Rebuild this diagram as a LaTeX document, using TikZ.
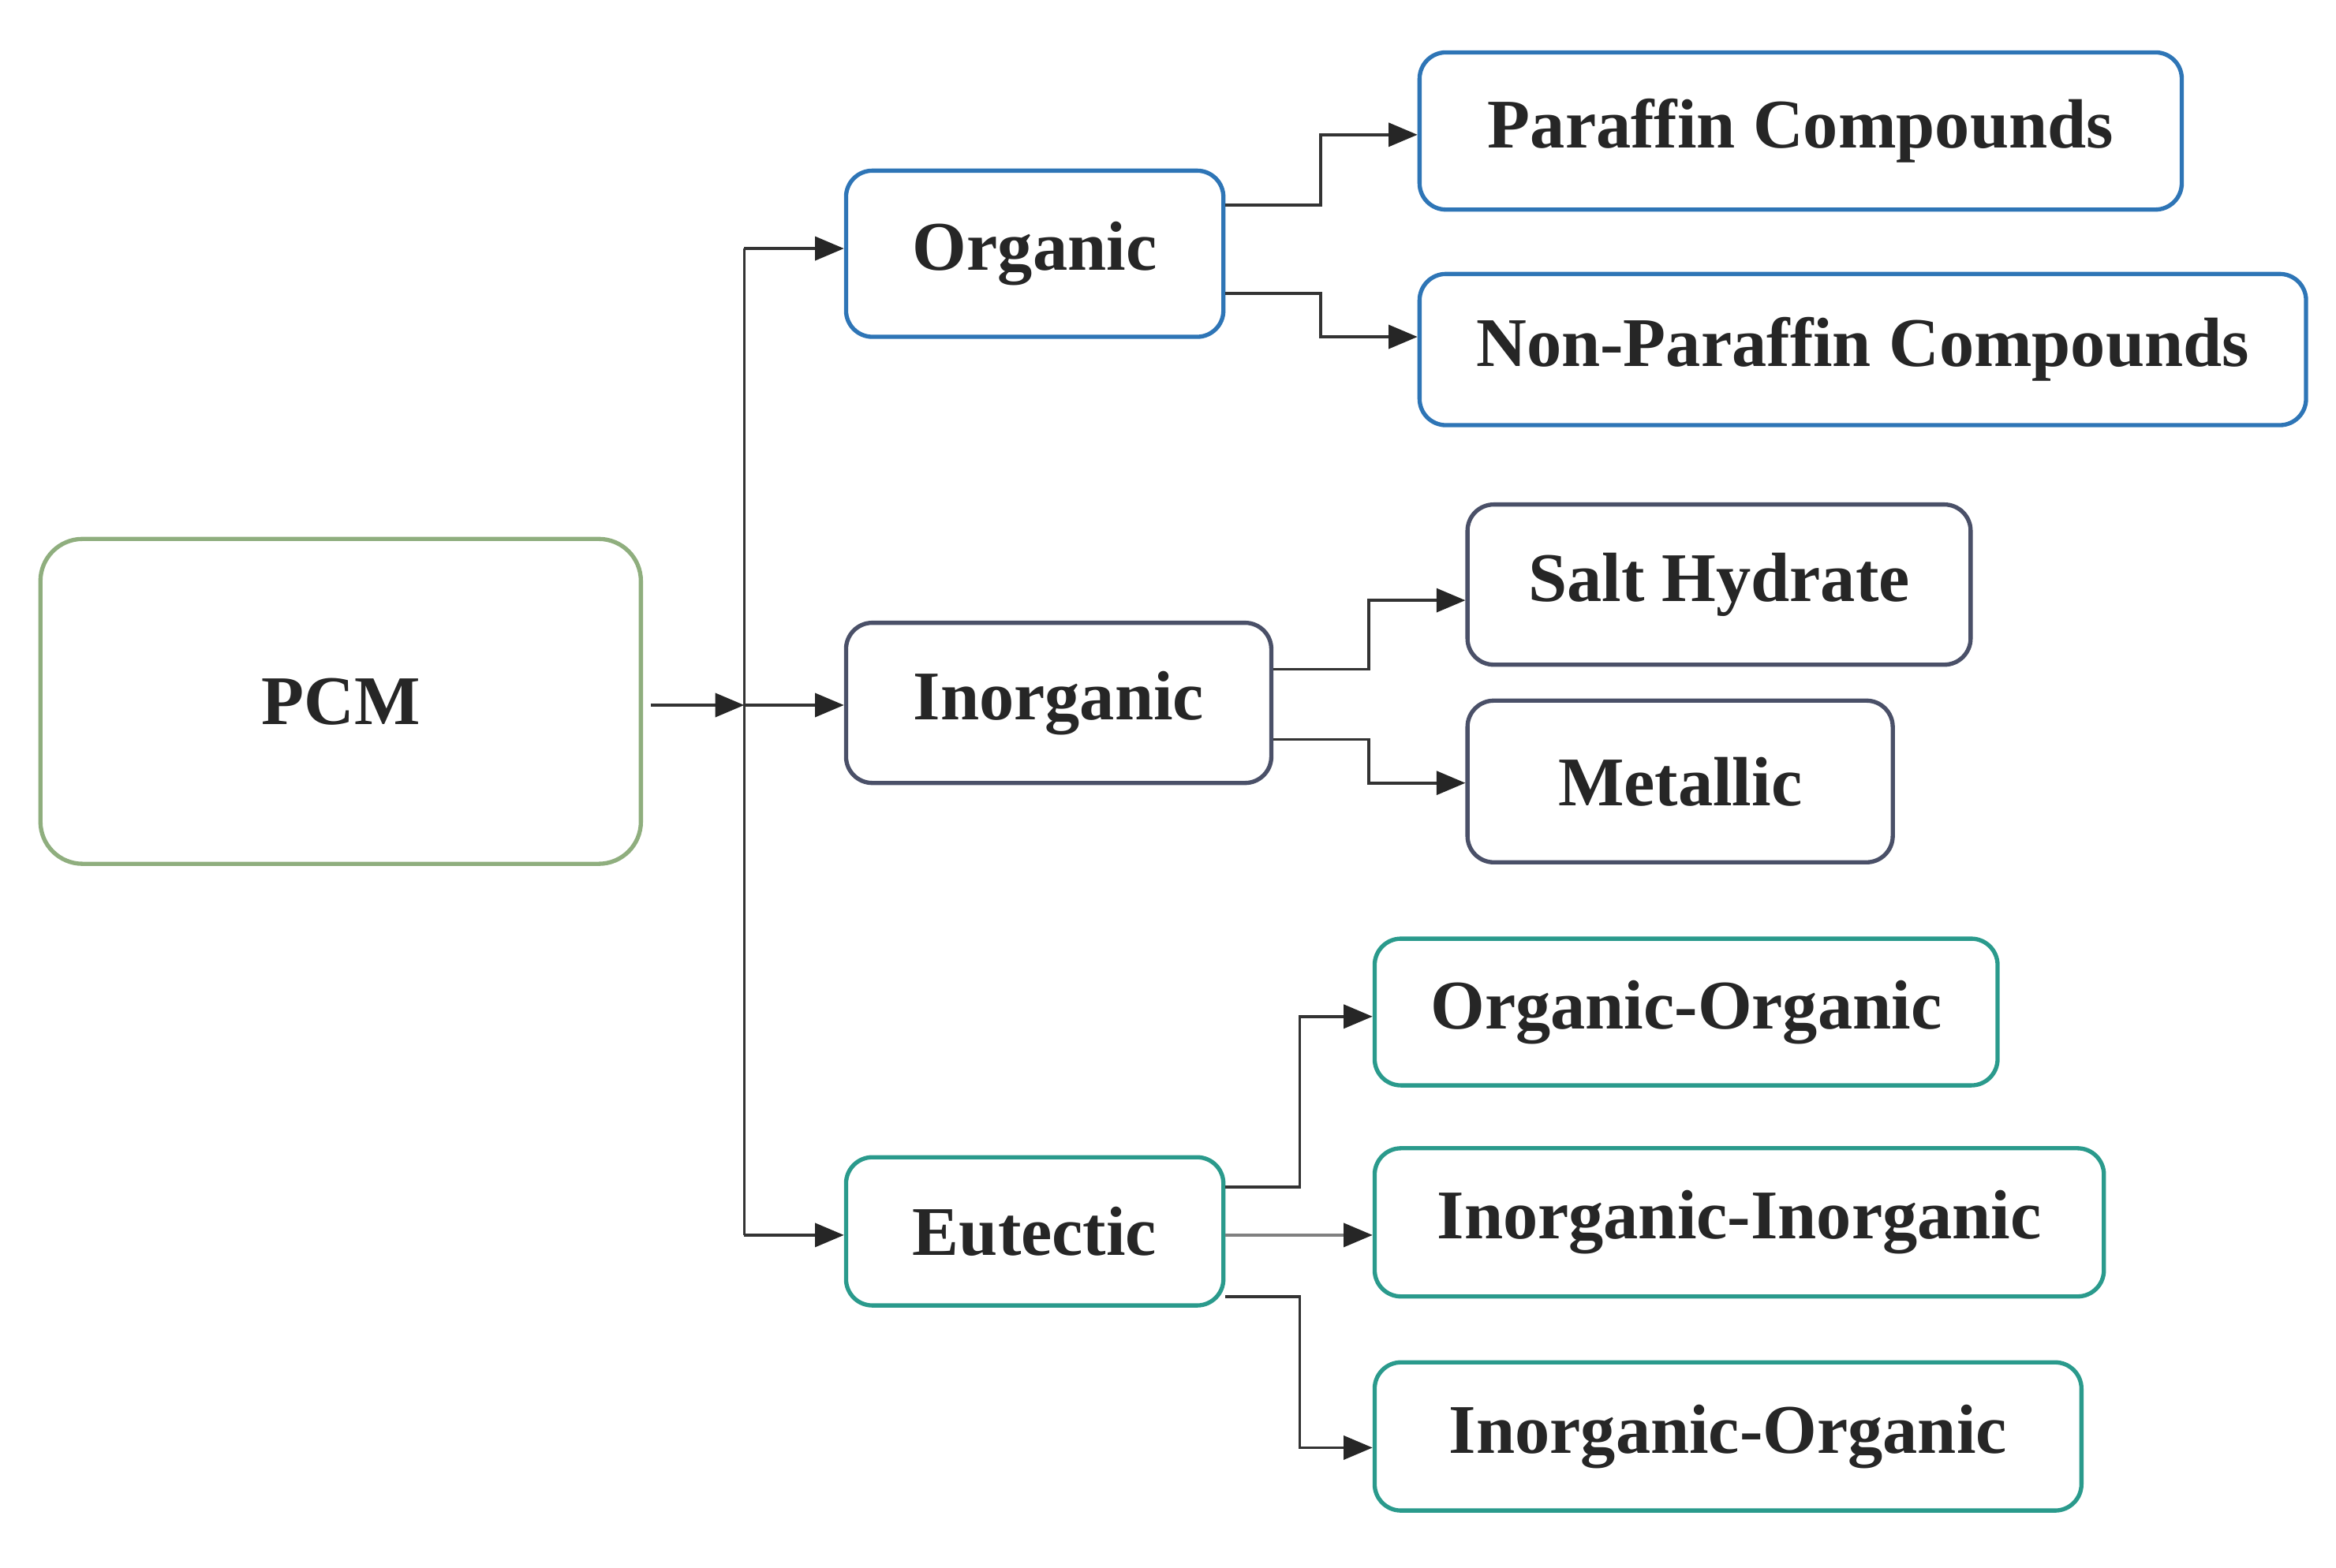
\documentclass[tikz,border=0pt]{standalone}
\usepackage{fontspec}
\setmainfont{Liberation Serif}
\usetikzlibrary{arrows.meta,calc}
\definecolor{cgreen}{HTML}{8FAE7E}
\definecolor{cblue}{HTML}{2E75B6}
\definecolor{cslate}{HTML}{4A5068}
\definecolor{cteal}{HTML}{2A9A8C}
\tikzset{
 bx/.style={draw=#1, line width=1.6pt, rounded corners=10pt, font=\fontsize{26.5}{30}\selectfont\bfseries, text=black!85, inner sep=0pt},
 conn/.style={line width=1.1pt, draw=black!80, -{Triangle[length=11pt,width=9pt,color=black!85]}}
}
\begin{document}
\begin{tikzpicture}[x=0.02cm,y=-0.02cm]
\useasboundingbox (0,0) rectangle (1560,1047);
\node[bx=cgreen, minimum width=401*0.02cm, minimum height=217*0.02cm, rounded corners=16pt] (pcm) at (227.5,468.5) {\raisebox{-4pt}{PCM}};
\node[bx=cblue, minimum width=252*0.02cm, minimum height=111*0.02cm] (org) at (691,169.5) {\raisebox{-4pt}{Organic}};
\node[bx=cslate, minimum width=284*0.02cm, minimum height=107*0.02cm] (inorg) at (707,469.5) {\raisebox{-4pt}{Inorganic}};
\node[bx=cteal, minimum width=252*0.02cm, minimum height=99*0.02cm] (eut) at (691,822.5) {\raisebox{-4pt}{Eutectic}};
\node[bx=cblue, minimum width=509*0.02cm, minimum height=105*0.02cm] (par) at (1202.5,87.5) {\raisebox{-4pt}{Paraffin Compounds}};
\node[bx=cblue, minimum width=592*0.02cm, minimum height=101*0.02cm] (npar) at (1244,233.5) {\raisebox{-4pt}{Non-Paraffin Compounds}};
\node[bx=cslate, minimum width=336*0.02cm, minimum height=107*0.02cm] (salt) at (1148,390.5) {\raisebox{-4pt}{Salt Hydrate}};
\node[bx=cslate, minimum width=284*0.02cm, minimum height=108*0.02cm] (met) at (1122,522) {\raisebox{-4pt}{Metallic}};
\node[bx=cteal, minimum width=416*0.02cm, minimum height=98*0.02cm] (oo) at (1126,676) {\raisebox{-4pt}{Organic-Organic}};
\node[bx=cteal, minimum width=487*0.02cm, minimum height=99*0.02cm] (ii) at (1161.5,816.5) {\raisebox{-4pt}{Inorganic-Inorganic}};
\node[bx=cteal, minimum width=472*0.02cm, minimum height=99*0.02cm] (io) at (1154,959.5) {\raisebox{-4pt}{Inorganic-Organic}};
\coordinate (tr) at (497,471);
\draw[conn] ([xshift=5*0.02cm]pcm.east |- tr) -- (tr);
\draw[line width=1.1pt,draw=black!80] (497,166) -- (497,825);
\draw[conn] (497,166) -- (org.west |- 0,166);
\draw[conn] (tr) -- (inorg.west |- tr);
\draw[conn] (497,825) -- (eut.west |- 0,825);
\draw[conn] (org.east |- 0,137) -- (882,137) -- (882,90) -- (par.west |- 0,90);
\draw[conn] (org.east |- 0,196) -- (882,196) -- (882,225) -- (npar.west |- 0,225);
\draw[conn] (inorg.east |- 0,447) -- (914,447) -- (914,401) -- (salt.west |- 0,401);
\draw[conn] (inorg.east |- 0,494) -- (914,494) -- (914,523) -- (met.west |- 0,523);
\draw[conn] (eut.east |- 0,793) -- (868,793) -- (868,679) -- (oo.west |- 0,679);
\draw[conn, draw=black!50] (eut.east |- 0,825) -- (ii.west |- 0,825);
\draw[conn] (eut.east |- 0,866) -- (868,866) -- (868,967) -- (io.west |- 0,967);
\end{tikzpicture}
\end{document}
